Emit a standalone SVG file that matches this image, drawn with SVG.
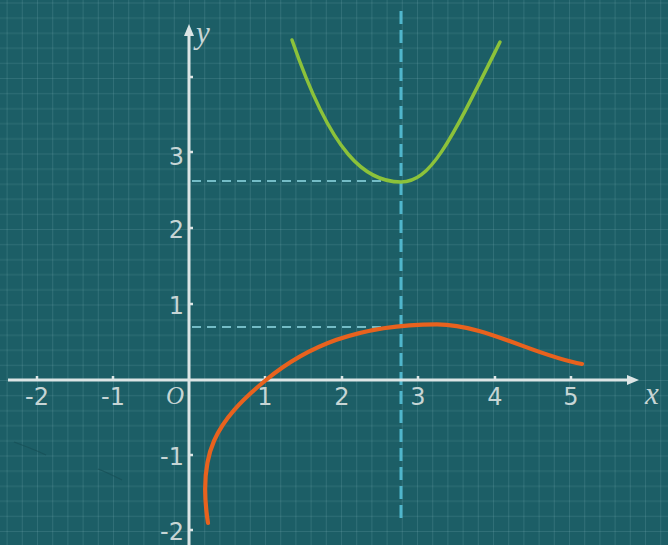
<svg xmlns="http://www.w3.org/2000/svg" width="668" height="545" viewBox="0 0 668 545">
<style>
.num{font-family:"DejaVu Sans","Open Sans",sans-serif;font-size:24px;fill:#c6d5d5}
.var{font-family:"Liberation Serif","DejaVu Serif",serif;font-style:italic;fill:#c6d5d5}
.axis{stroke:#dce5e5;stroke-width:3;fill:none}
.tick{stroke:#dce5e5;stroke-width:2.5}
.hdash{stroke:#74bcc6;stroke-width:1.8;stroke-dasharray:9 6;fill:none}
.vdash{stroke:#4fb6cc;stroke-width:3;stroke-dasharray:13 6;fill:none}
</style>
<defs>
<pattern id="grid" x="189" y="380" width="76" height="75.5" patternUnits="userSpaceOnUse">
<g stroke="#9fd0d4" stroke-opacity="0.15" stroke-width="1">
<line x1="0.5" y1="0" x2="0.5" y2="75.5"/><line x1="15.7" y1="0" x2="15.7" y2="75.5"/><line x1="30.9" y1="0" x2="30.9" y2="75.5"/><line x1="46.1" y1="0" x2="46.1" y2="75.5"/><line x1="61.3" y1="0" x2="61.3" y2="75.5"/>
<line x1="0" y1="0.5" x2="76" y2="0.5"/><line x1="0" y1="15.6" x2="76" y2="15.6"/><line x1="0" y1="30.7" x2="76" y2="30.7"/><line x1="0" y1="45.8" x2="76" y2="45.8"/><line x1="0" y1="60.9" x2="76" y2="60.9"/>
</g>
</pattern>
</defs>
<rect width="668" height="545" fill="#1c5e66"/>
<rect width="668" height="545" fill="url(#grid)"/>
<path d="M14,442 C30,448 40,452 46,455 M98,469 C106,472 114,476 122,480" stroke="#174e55" stroke-width="1.2" fill="none" opacity="0.7"/>

<g id="connectors">
<line class="hdash" x1="192" y1="181" x2="400" y2="181"/>
<line class="hdash" x1="192" y1="327" x2="400" y2="327"/>
<line class="vdash" x1="401" y1="11" x2="401" y2="519"/>
</g>

<g id="axes">
<line class="axis" x1="8" y1="380" x2="630" y2="380"/>
<polygon points="639,380 627,375 627,385" fill="#dce5e5"/>
<line class="axis" x1="189" y1="545" x2="189" y2="33"/>
<polygon points="189,24 184,36 194,36" fill="#dce5e5"/>
<g class="tick">
<line x1="37" y1="376" x2="37" y2="380"/><line x1="113" y1="376" x2="113" y2="380"/>
<line x1="265" y1="376" x2="265" y2="380"/><line x1="342" y1="376" x2="342" y2="380"/>
<line x1="418" y1="376" x2="418" y2="380"/><line x1="495" y1="376" x2="495" y2="380"/>
<line x1="571" y1="376" x2="571" y2="380"/>
<line x1="189" y1="77" x2="193" y2="77"/><line x1="189" y1="152" x2="193" y2="152"/>
<line x1="189" y1="228" x2="193" y2="228"/><line x1="189" y1="304" x2="193" y2="304"/>
<line x1="189" y1="455" x2="193" y2="455"/><line x1="189" y1="530" x2="193" y2="530"/>
</g>
</g>

<g id="labels">
<text class="num" x="37" y="405" text-anchor="middle">-2</text>
<text class="num" x="113" y="405" text-anchor="middle">-1</text>
<text class="num" x="265" y="405" text-anchor="middle">1</text>
<text class="num" x="342" y="405" text-anchor="middle">2</text>
<text class="num" x="418" y="405" text-anchor="middle">3</text>
<text class="num" x="495" y="405" text-anchor="middle">4</text>
<text class="num" x="571" y="405" text-anchor="middle">5</text>
<text class="num" x="184" y="165" text-anchor="end">3</text>
<text class="num" x="184" y="238" text-anchor="end">2</text>
<text class="num" x="184" y="314" text-anchor="end">1</text>
<text class="num" x="184" y="465" text-anchor="end">-1</text>
<text class="num" x="184" y="540" text-anchor="end">-2</text>
<text class="var" x="166" y="404" font-size="25">O</text>
<text class="var" x="645" y="404" font-size="31">x</text>
<text class="var" x="196" y="43" font-size="31">y</text>
</g>

<g id="curve-g">
<path d="M292,40 C332,156 366,182 401,182 C431,182 450,142 500,42" fill="none" stroke="#8cc23a" stroke-width="3.5" stroke-linecap="round"/>
</g>

<g id="curve-f">
<path d="M208,523 C197,453 216,421 266,380 C306,347.2 357,324.3 437,324.3 C485,324.3 535,356 582,364" fill="none" stroke="#e8621e" stroke-width="4.2" stroke-linecap="round"/>
</g>
</svg>
